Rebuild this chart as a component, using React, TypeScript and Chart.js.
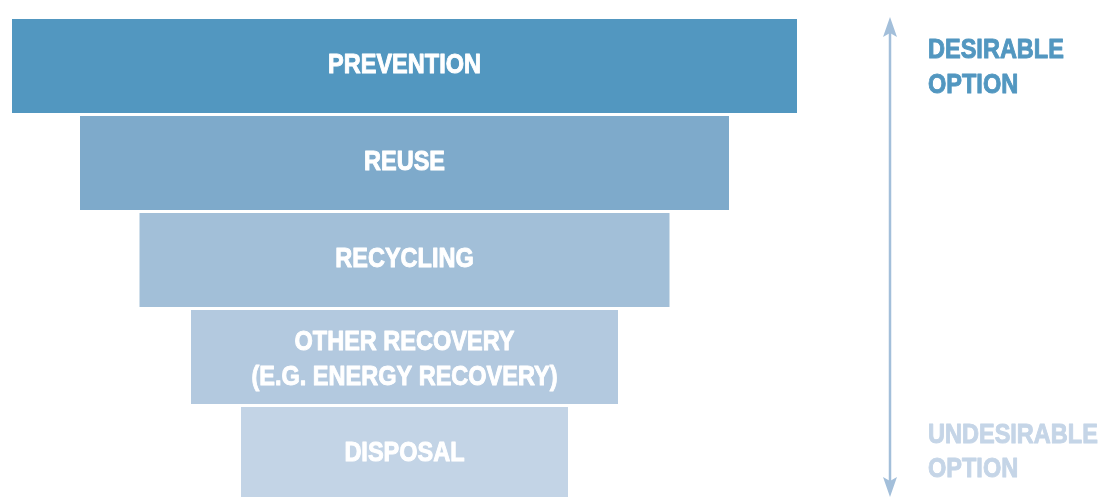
import React, { useEffect, useRef } from "react";
import { Chart, registerables } from "chart.js";

Chart.register(...registerables);

const categories: (string | string[])[] = [
  "PREVENTION",
  "REUSE",
  "RECYCLING",
  ["OTHER RECOVERY", "(E.G. ENERGY RECOVERY)"],
  "DISPOSAL",
];
const barWidths = [785, 649, 530, 427, 327];
const barColors = ["#5297C0", "#7EAACB", "#A2BFD8", "#B3C9DF", "#C3D4E6"];
const topLabel = ["DESIRABLE", "OPTION"];
const bottomLabel = ["UNDESIRABLE", "OPTION"];

const FONT = "bold 28px 'Liberation Sans', Arial, sans-serif";
const SQUEEZE = 0.84;

function drawText(ctx: CanvasRenderingContext2D, text: string, x: number, y: number) {
  ctx.save();
  ctx.translate(x, y);
  ctx.scale(SQUEEZE, 1);
  ctx.strokeStyle = ctx.fillStyle as string;
  ctx.lineWidth = 1;
  ctx.lineJoin = "round";
  ctx.fillText(text, 0, 0);
  ctx.strokeText(text, 0, 0);
  ctx.restore();
}

const overlayPlugin = {
  id: "overlay",
  afterDatasetsDraw(chart: any) {
    const ctx = chart.ctx as CanvasRenderingContext2D;
    const meta = chart.getDatasetMeta(0);
    ctx.save();
    ctx.font = FONT;
    ctx.fillStyle = "#ffffff";
    ctx.textAlign = "center";
    ctx.textBaseline = "alphabetic";
    meta.data.forEach((el: any, i: number) => {
      const lab = categories[i];
      const lines = Array.isArray(lab) ? lab : [lab];
      const cx = el.base + (el.x - el.base) / 2;
      if (lines.length === 1) {
        drawText(ctx, lines[0], cx, el.y + 7);
      } else {
        drawText(ctx, lines[0], cx, el.y - 7);
        drawText(ctx, lines[1], cx, el.y + 28);
      }
    });

    // arrow
    const area = chart.chartArea;
    const ax = area.right + 93;
    const top = 17;
    const bottom = 497;
    ctx.strokeStyle = "#A3BFDA";
    ctx.fillStyle = "#A3BFDA";
    ctx.lineWidth = 2.5;
    ctx.beginPath();
    ctx.moveTo(ax, top + 12);
    ctx.lineTo(ax, bottom - 12);
    ctx.stroke();
    ctx.beginPath();
    ctx.moveTo(ax, top);
    ctx.lineTo(ax - 7, top + 20);
    ctx.lineTo(ax, top + 16);
    ctx.lineTo(ax + 7, top + 20);
    ctx.closePath();
    ctx.fill();
    ctx.beginPath();
    ctx.moveTo(ax, bottom);
    ctx.lineTo(ax - 7, bottom - 20);
    ctx.lineTo(ax, bottom - 16);
    ctx.lineTo(ax + 7, bottom - 20);
    ctx.closePath();
    ctx.fill();

    ctx.textAlign = "left";
    ctx.fillStyle = "#5297C0";
    const tx = area.right + 131;
    drawText(ctx, topLabel[0], tx, 58);
    drawText(ctx, topLabel[1], tx, 93);
    ctx.fillStyle = "#C5D5E7";
    drawText(ctx, bottomLabel[0], tx, 443);
    drawText(ctx, bottomLabel[1], tx, 477);
    ctx.restore();
  },
};

export default function App() {
  const ref = useRef<HTMLCanvasElement | null>(null);
  useEffect(() => {
    document.body.style.margin = "0";
    document.documentElement.style.overflow = "hidden";
    document.body.style.overflow = "hidden";
    const chart = new Chart(ref.current as HTMLCanvasElement, {
      type: "bar",
      data: {
        labels: categories as any,
        datasets: [
          {
            data: barWidths.map((w) => [-w / 2, w / 2]) as any,
            backgroundColor: barColors,
            borderWidth: 0,
            categoryPercentage: 1,
            barPercentage: 94 / 97,
          },
        ],
      },
      options: {
        indexAxis: "y",
        responsive: false,
        animation: false,
        layout: { padding: { left: 12, right: 307, top: 17.5, bottom: 0.5 } },
        plugins: { legend: { display: false }, tooltip: { enabled: false } },
        scales: {
          x: { type: "linear", min: -392.5, max: 392.5, display: false },
          y: { type: "category", display: false },
        },
      },
      plugins: [overlayPlugin],
    });
    return () => chart.destroy();
  }, []);
  return (
    <div style={{ width: 1104, height: 497, overflow: "hidden" }}>
      <canvas ref={ref} width={1104} height={503} style={{ display: "block" }} />
    </div>
  );
}
